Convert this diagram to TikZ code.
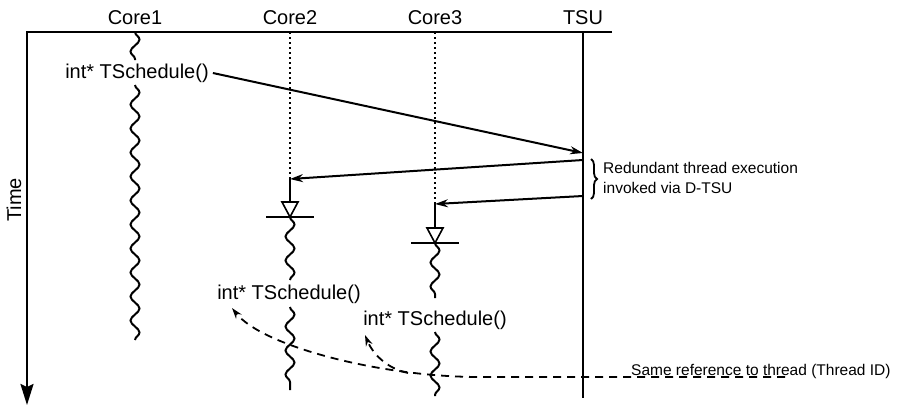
\documentclass[tikz,border=0pt]{standalone}
\usepackage{fontspec}
\setmainfont{Liberation Sans}
\usetikzlibrary{decorations.pathmorphing,decorations.pathreplacing,arrows.meta}
\begin{document}
\begin{tikzpicture}[x=1pt,y=-1pt,
  ln/.style={line width=2pt},
  wave/.style={line width=2pt, decorate, decoration={snake, segment length=24pt, amplitude=4.5pt}},
  dots/.style={line width=1.6pt, dash pattern=on 1.6pt off 3.4pt},
  big/.style={font=\fontsize{20}{22}\selectfont, inner sep=0pt},
  small/.style={font=\fontsize{15.5}{20}\selectfont, inner sep=0pt},
  arr/.style={ln, -{Stealth[length=13pt,width=8pt]}},
  darr/.style={line width=1.8pt, dash pattern=on 8pt off 6pt, -{Stealth[length=11pt,width=7pt]}},
  tri/.style={line width=1.6pt, fill=white},
]
\useasboundingbox (0,0) rectangle (898,408);
% headers
\node[big] (c1) at (135,18) {Core1};
\node[big] (c2) at (290,18) {Core2};
\node[big] (c3) at (435,18) {Core3};
\node[big] (tsu) at (583,18) {TSU};
% frame and time axis
\coordinate (tr) at (612,32);
\coordinate (tl) at (27,32);
\coordinate (tb) at (27,405);
\draw[ln, -{Stealth[length=21pt,width=13pt,inset=3pt]}] (tr) -- (tl) -- (tb);
\node[big, rotate=90] (time) at (14,200) {Time};
% TSU line
\coordinate (u0) at (583,32);
\coordinate (u1) at (583,398);
\draw[ln] (u0) -- (u1);
% Core1
\coordinate (a0) at (135,32);
\coordinate (a1) at (135,60);
\coordinate (a2) at (135,85);
\coordinate (a3) at (135,340);
\draw[wave] (a0) -- (a1);
\draw[wave] (a2) -- (a3);
\node[big] (t1) at (137,73) {int* TSchedule()};
% Core2
\coordinate (b0) at (290,32);
\coordinate (b1) at (290,179);
\coordinate (b2) at (290,202);
\coordinate (b3) at (290,217);
\coordinate (b4) at (290,280);
\coordinate (b5) at (290,307);
\coordinate (b6) at (290,390);
\draw[dots] (b0) -- (b1);
\draw[ln] (b1) -- (b2);
\draw[tri] ([xshift=-8pt]b2) -- ([xshift=8pt]b2) -- (b3) -- cycle;
\draw[ln] ([xshift=-24pt]b3) -- ([xshift=24pt]b3);
\draw[wave] (b3) -- (b4);
\draw[wave] (b5) -- (b6);
\node[big] (t2) at (289,294) {int* TSchedule()};
% Core3
\coordinate (e0) at (435,32);
\coordinate (e1) at (435,204);
\coordinate (e2) at (435,228);
\coordinate (e3) at (435,243);
\coordinate (e4) at (435,298);
\coordinate (e5) at (435,332);
\coordinate (e6) at (435,396);
\draw[dots] (e0) -- (e1);
\draw[ln] (e1) -- (e2);
\draw[tri] ([xshift=-8pt]e2) -- ([xshift=8pt]e2) -- (e3) -- cycle;
\draw[ln] ([xshift=-24pt]e3) -- ([xshift=24pt]e3);
\draw[wave] (e3) -- (e4);
\draw[wave] (e5) -- (e6);
\node[big] (t3) at (435,320) {int* TSchedule()};
% arrows
\coordinate (p1) at (583,153);
\coordinate (p2) at (583,160);
\coordinate (p3) at (583,196);
\draw[arr] ([xshift=4pt]t1.east) -- (p1);
\draw[arr] (p2) -- (b1);
\draw[arr] (p3) -- (e1);
% brace
\draw[line width=1.8pt, decorate, decoration={brace, amplitude=6pt}] (591,159) -- (591,199);
\node[small, anchor=west, align=left] (red) at (603,178) {Redundant thread execution\\invoked via D-TSU};
% dashed references
\node[small, anchor=base west] (same) at (631,375) {Same reference to thread (Thread ID)};
\coordinate (d0) at (785,377);
\coordinate (d1) at (480,377);
\coordinate (d2) at (408,373);
\coordinate (h1) at (232,308);
\coordinate (h2) at (365,335);
\draw[darr] (d0) -- (d1) .. controls (380,377) and (262,346) .. (h1);
\draw[darr] (d2) .. controls (385,368) and (372,352) .. (h2);
\end{tikzpicture}
\end{document}
